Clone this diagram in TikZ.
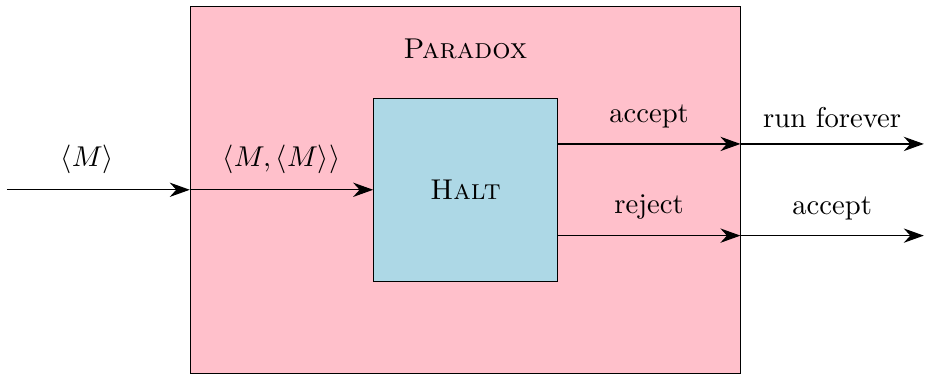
\documentclass[tikz,border=0pt]{standalone}
\usepackage{amsmath,amssymb}
\usepackage{xcolor}
\usepackage{tikz}
\usetikzlibrary{arrows.meta,positioning}
\definecolor{ParadoxBg}{HTML}{FFC0CB}
\definecolor{HaltBg}{HTML}{ADD8E6}

\begin{document}
\begin{tikzpicture}[x=2.25cm,y=2.25cm,
  box/.style={draw,inner sep=0pt},
  e/.style={-{Stealth[length=7pt,width=5pt]}},
  lbl/.style={above=2pt}]
  \useasboundingbox (-1.038,-0.035) rectangle (4.05,2.035);
  \node[box,fill=ParadoxBg,minimum width=6.75cm,minimum height=4.5cm] (paradox) at (1.5,1) {};
  \node[box,fill=HaltBg,minimum width=2.25cm,minimum height=2.25cm] (halt) at (1.5,1) {\textsc{Halt}};
  \node (title) at (1.5,1.77) {\textsc{Paradox}};
  \coordinate (src) at (-1,1);
  \coordinate (acc) at (3,1.25);
  \coordinate (rej) at (3,0.75);
  \coordinate (loop) at (4,1.25);
  \coordinate (done) at (4,0.75);
  \draw[e] (src) -- node[lbl,pos=0.44]{$\langle M\rangle$} (paradox.west);
  \draw[e] (paradox.west) -- node[lbl]{$\langle M,\langle M\rangle\rangle$} (halt.west);
  \draw[e] (halt.east |- acc) -- node[lbl]{accept} (acc);
  \draw[e] (halt.east |- rej) -- node[lbl]{reject} (rej);
  \draw[e] (acc) -- node[lbl]{run forever} (loop);
  \draw[e] (rej) -- node[lbl]{accept} (done);
\end{tikzpicture}
\end{document}
